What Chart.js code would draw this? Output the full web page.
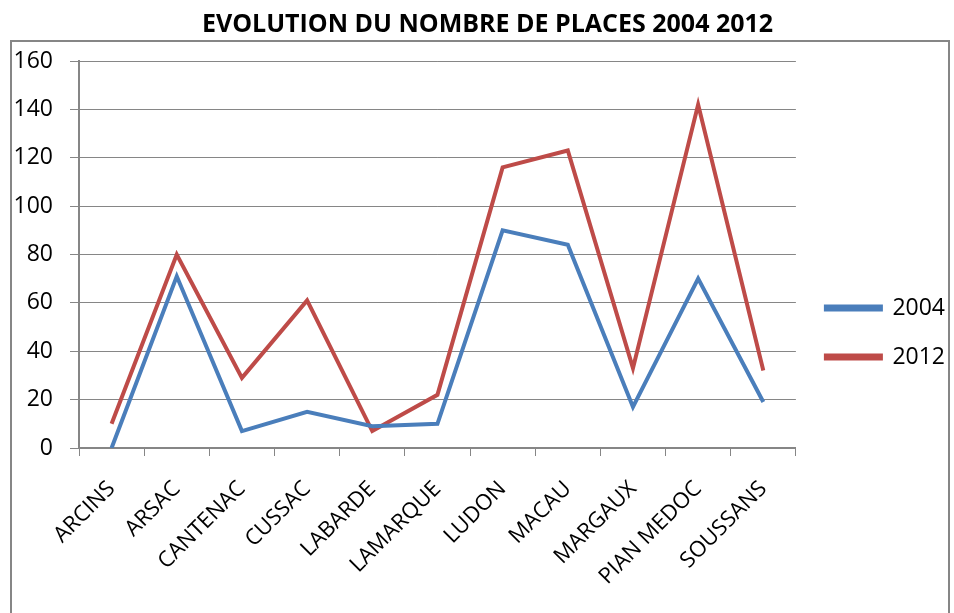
<!DOCTYPE html>
<html>
<head>
<meta charset="utf-8">
<script src="https://cdn.jsdelivr.net/npm/chart.js@4/dist/chart.umd.min.js"></script>
<style>
  html, body { margin: 0; padding: 0; background: #fff; }
  #wrap { width: 954px; height: 613px; }
</style>
</head>
<body>
<div id="wrap"><canvas id="placesChart" width="954" height="613"></canvas></div>
<script>
// communes et nombre de places
const communes = ["ARCINS", "ARSAC", "CANTENAC", "CUSSAC", "LABARDE", "LAMARQUE", "LUDON", "MACAU", "MARGAUX", "PIAN MEDOC", "SOUSSANS"];
const places2004 = [0, 71, 7, 15, 9, 10, 90, 84, 17, 70, 19];
const places2012 = [10, 80, 29, 61, 7, 22, 116, 123, 33, 142, 32];
const yTicks = [0, 20, 40, 60, 80, 100, 120, 140, 160];

const gris = "#868686";
const police = "'Open Sans', 'DejaVu Sans', sans-serif";

// cadre gris autour du graphique (comme dans Excel)
const cadre = {
    id: "cadre",
    beforeDraw(chart) {
        const c = chart.ctx;
        c.save();
        c.strokeStyle = gris;
        c.lineWidth = 2;
        c.beginPath();
        c.moveTo(11, 620);
        c.lineTo(11, 41);
        c.lineTo(949, 41);
        c.lineTo(949, 620);
        c.stroke();
        c.restore();
    }
};

// petits decalages apres la mise en page : titre un peu a droite, legende plus bas
const decalage = {
    id: "decalage",
    afterLayout(chart) {
        const t = chart.titleBlock;
        if (t) { t.left += 12; t.right += 12; }
        const l = chart.legend;
        if (l) { l.left += 4; l.right += 4; l.top += 26; l.bottom += 26; }
    }
};

let ctx = document.getElementById("placesChart").getContext("2d");

new Chart(ctx, {
    type: "line",
    data: {
        labels: communes,
        datasets: [
            {
                label: "2004",
                data: places2004,
                borderColor: "#4A7EBB",
                backgroundColor: "#4A7EBB",
                borderWidth: 4,
                pointRadius: 0,
                tension: 0
            },
            {
                label: "2012",
                data: places2012,
                borderColor: "#BE4B48",
                backgroundColor: "#BE4B48",
                borderWidth: 4,
                pointRadius: 0,
                tension: 0
            }
        ]
    },
    options: {
        responsive: false,
        animation: false,
        layout: { padding: { left: 0, right: 3, top: 0, bottom: 0 } },
        plugins: {
            title: {
                display: true,
                text: "EVOLUTION DU NOMBRE DE PLACES 2004 2012",
                color: "#000",
                font: { family: police, size: 25, weight: "bold", lineHeight: 1.2 },
                padding: { top: 10, bottom: 21 }
            },
            legend: {
                position: "right",
                labels: {
                    color: "#000",
                    font: { family: police, size: 23 },
                    boxWidth: 55,
                    boxHeight: 3,
                    padding: 26
                }
            },
            tooltip: { enabled: false }
        },
        scales: {
            x: {
                offset: true,
                afterFit: (scale) => { scale.height = 165; },
                grid: {
                    offset: true,
                    drawOnChartArea: false,
                    drawTicks: true,
                    tickLength: 8,
                    color: gris
                },
                border: { color: gris, width: 2 },
                ticks: {
                    color: "#000",
                    font: { family: police, size: 22 },
                    minRotation: 45,
                    maxRotation: 45,
                    padding: 20,
                    autoSkip: false
                }
            },
            y: {
                min: 0,
                max: 160,
                afterFit: (scale) => { scale.width = 79; },
                afterBuildTicks: (scale) => { scale.ticks = yTicks.map((v) => ({ value: v })); },
                grid: {
                    color: gris,
                    lineWidth: 1,
                    tickLength: 9
                },
                border: { color: gris, width: 2 },
                ticks: {
                    color: "#000",
                    font: { family: police, size: 23 },
                    padding: 17
                }
            }
        }
    },
    plugins: [cadre, decalage]
});
</script>
</body>
</html>
